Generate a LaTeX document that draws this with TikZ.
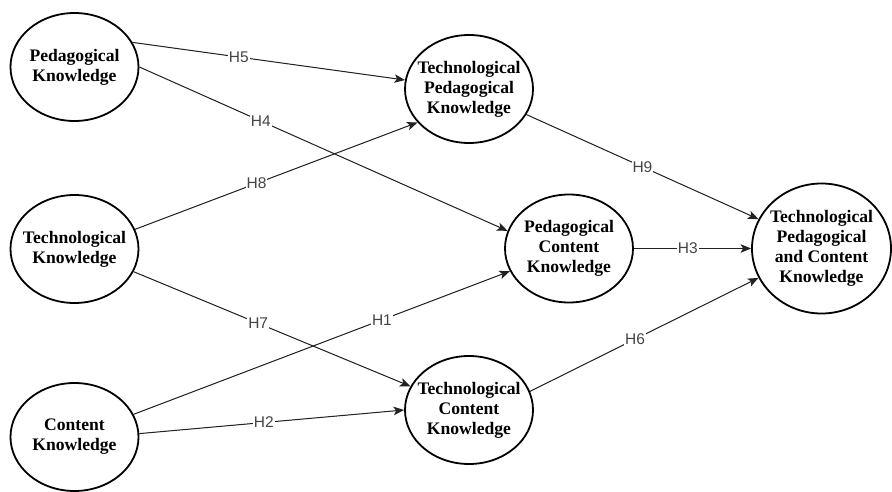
\documentclass[tikz,border=0pt]{standalone}
\usepackage{fontspec}
\setmainfont{Liberation Serif}
\newfontfamily\hypfont{Liberation Sans}
\usetikzlibrary{arrows.meta,shapes.geometric}
\definecolor{hypgray}{HTML}{444444}
\definecolor{linegray}{HTML}{222222}

\begin{document}
\begin{tikzpicture}[x=1pt,y=-1pt,>={Stealth[length=10.5pt,width=8.5pt,inset=2.5pt]},
construct/.style={ellipse,draw,line width=1.8pt,inner sep=-10pt,align=center,minimum width=128pt,minimum height=108pt,font=\fontsize{17.6}{20}\selectfont\bfseries},
link/.style={->,line width=1pt,draw=linegray,fill=linegray},
hyp/.style={fill=white,inner sep=1pt,text=hypgray,font=\hypfont\fontsize{15.5}{17}\selectfont}]
\useasboundingbox (0,0) rectangle (892,492);
% exogenous constructs
\node[construct](pk) at (74.5,67){Pedagogical\\Knowledge};
\node[construct](tk) at (74.5,249){Technological\\Knowledge};
\node[construct](ck) at (74.5,437){Content\\Knowledge};
% mediators
\node[construct](tpk) at (469,89){Technological\\Pedagogical\\Knowledge};
\node[construct](pck) at (569,248.5){Pedagogical\\Content\\Knowledge};
\node[construct](tck) at (469,410){Technological\\Content\\Knowledge};
% outcome
\node[construct,minimum width=139pt,minimum height=130pt](tpack) at (821.5,248.5){Technological\\Pedagogical\\and Content\\Knowledge};
% hypotheses
\draw[link](pk.23)--node[hyp,pos=0.39]{H5}(tpk.172);
\draw[link](pk.east)--node[hyp,pos=0.33]{H4}(pck.164);
\draw[link](tk.18)--node[hyp,pos=0.43]{H8}(tpk.213);
\draw[link](tk.-21)--node[hyp,pos=0.45]{H7}(tck.158);
\draw[link](ck.21)--node[hyp,pos=0.66]{H1}(pck.201);
\draw[link](ck.3)--node[hyp,pos=0.47]{H2}(tck.west);
\draw[link](tpk.-24)--node[hyp,pos=0.5]{H9}(tpack.155);
\draw[link](pck.east)--node[hyp,pos=0.46]{H3}(tpack.west);
\draw[link](tck.17)--node[hyp,pos=0.46]{H6}(tpack.205);
\end{tikzpicture}
\end{document}
